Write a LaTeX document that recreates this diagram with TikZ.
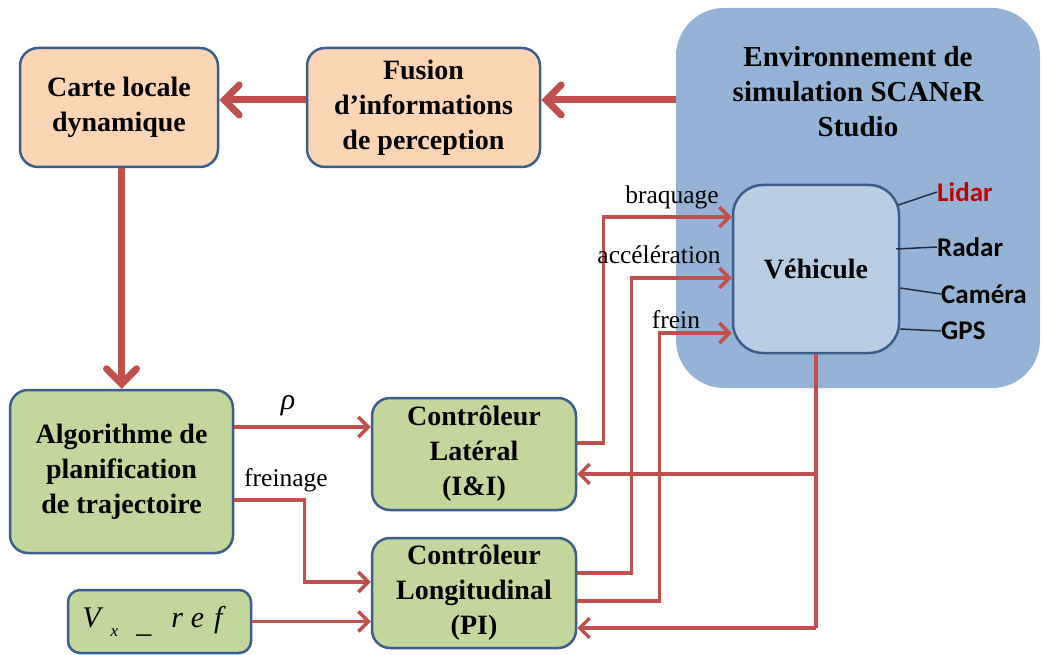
\documentclass[tikz,border=0pt]{standalone}
\usepackage{fontspec}
\setmainfont{Liberation Serif}
\newfontfamily\sensorfont{Carlito}
\usetikzlibrary{arrows.meta,calc}
\definecolor{arrowred}{HTML}{C0504D}
\definecolor{bordc}{HTML}{3B5E8C}
\definecolor{orangefill}{HTML}{FCD5B5}
\definecolor{greenfill}{HTML}{C3D69B}
\definecolor{envfill}{HTML}{95B3D7}
\definecolor{vehfill}{HTML}{B9CDE5}
\definecolor{lidarred}{HTML}{C00000}
\definecolor{sensline}{HTML}{1F2F48}
\tikzset{
  box/.style={draw=bordc, line width=2.5pt, rounded corners=18pt, align=center,
    inner sep=0pt, font=\fontsize{28}{35}\selectfont\bfseries},
  obox/.style={box, fill=orangefill},
  gbox/.style={box, fill=greenfill},
  bigarrow/.style={draw=arrowred, line width=7pt,
    -{Straight Barb[length=15pt,width=30pt,line cap=round]}},
  thinarrow/.style={draw=arrowred, line width=3.5pt,
    -{Straight Barb[length=10pt,width=20pt]}},
  thinline/.style={draw=arrowred, line width=3.5pt},
  lbl/.style={font=\fontsize{25.5}{28}\selectfont, inner sep=0pt},
  sensor/.style={font=\fontsize{27}{30}\selectfont\sensorfont\bfseries, inner sep=0pt, anchor=west},
  sline/.style={draw=sensline, line width=1.5pt}
}
\begin{document}
\begin{tikzpicture}[x=1pt,y=-1pt]
\useasboundingbox (0,0) rectangle (1042,655);

% environment
\node[fill=envfill, rounded corners=48pt, minimum width=364pt, minimum height=380pt, inner sep=0pt] (env) at (858,198) {};
\node[align=center, inner sep=0pt, font=\fontsize{29}{35}\selectfont\bfseries] (envt) at (858,92)
  {Environnement  de\\simulation  SCANeR\\Studio};

% vehicle
\node[draw=bordc, line width=2.5pt, fill=vehfill, rounded corners=30pt, minimum width=166pt, minimum height=168pt,
  inner sep=0pt, font=\fontsize{28}{35}\selectfont\bfseries] (veh) at (816,269) {Véhicule};

% sensors
\node[sensor, text=lidarred] (lidar) at (937,192) {Lidar};
\node[sensor] (radar) at (937,247) {Radar};
\node[sensor] (camera) at (941,294) {Caméra};
\node[sensor] (gps) at (941,331) {GPS};
\draw[sline] ([xshift=-2pt,yshift=64pt]veh.east) -- (lidar.west);
\draw[sline] ([xshift=-4pt,yshift=20pt]veh.east) -- (radar.west);
\draw[sline] ([yshift=-19pt]veh.east) -- (camera.west);
\draw[sline] ([yshift=-60pt]veh.east) -- (gps.west);

% top boxes
\node[obox, minimum width=198pt, minimum height=119pt] (carte) at (119,107.5) {Carte locale\\dynamique};
\node[obox, minimum width=233pt, minimum height=119pt] (fusion) at (423.5,107.5) {Fusion\\d’informations\\de perception};

% lower boxes
\node[gbox, minimum width=223pt, minimum height=163pt] (algo) at (121.5,471.5) {Algorithme  de\\planification\\de trajectoire};
\node[gbox, minimum width=204pt, minimum height=112pt] (lat) at (474,454) {Contrôleur\\Latéral\\(I\&I)};
\node[gbox, minimum width=204pt, minimum height=110pt] (long) at (474,593) {Contrôleur\\Longitudinal\\(PI)};
\node[gbox, rounded corners=12pt, minimum width=183pt, minimum height=63pt, font=\fontsize{30}{34}\selectfont\itshape] (vx) at (159.5,621.5)
  {V\hspace{10pt}\raisebox{-9pt}{\fontsize{17}{17}\selectfont x}\hspace{18pt}\raisebox{-5pt}{\_}\hspace{20pt}r\hspace{8pt}e\hspace{10pt}f\hspace*{14pt}};

% thick arrows
\draw[bigarrow] ([yshift=7.5pt]env.west |- fusion.east) -- ([yshift=7.5pt]fusion.east);
\draw[bigarrow] ([yshift=7.5pt]fusion.west) -- ([yshift=7.5pt]carte.east);
\draw[bigarrow] (carte.south -| algo.north) -- (algo.north);

% planner to controllers
\coordinate (rhoin) at ([yshift=27pt]lat.west);
\draw[thinarrow] (algo.east |- rhoin) -- (rhoin);
\node[lbl, font=\fontsize{30}{30}\selectfont\itshape] (rho) at (288,406) {ρ};
\coordinate (frin) at ([yshift=11pt]long.west);
\draw[thinarrow] ([yshift=-28.5pt]algo.east) -- ++(70,0) |- (frin);
\node[lbl] (freinage) at (286,480) {freinage};
\draw[thinarrow] (vx.east) -- (vx.east -| long.west);

% controllers to vehicle
\draw[thinarrow] ([yshift=11pt]lat.east) -- ++(26,0) |- ([yshift=52pt]veh.west);
\draw[thinarrow] ([yshift=20pt]long.east) -- ++(54,0) |- ([yshift=-9pt]veh.west);
\draw[thinarrow] ([yshift=-8pt]long.east) -- ++(82,0) |- ([yshift=-64pt]veh.west);
\node[lbl] (braq) at (672,197) {braquage};
\node[lbl] (acc) at (659,255) {accélération};
\node[lbl] (frein) at (676,320) {frein};

% feedback
\coordinate (fbl) at ([yshift=-20pt]lat.east);
\coordinate (fbg) at ([yshift=-35pt]long.east);
\draw[thinline] (veh.south) -- (veh.south |- fbg);
\draw[thinarrow] (veh.south |- fbl) -- (fbl);
\draw[thinarrow] (veh.south |- fbg) -- (fbg);
\end{tikzpicture}
\end{document}
